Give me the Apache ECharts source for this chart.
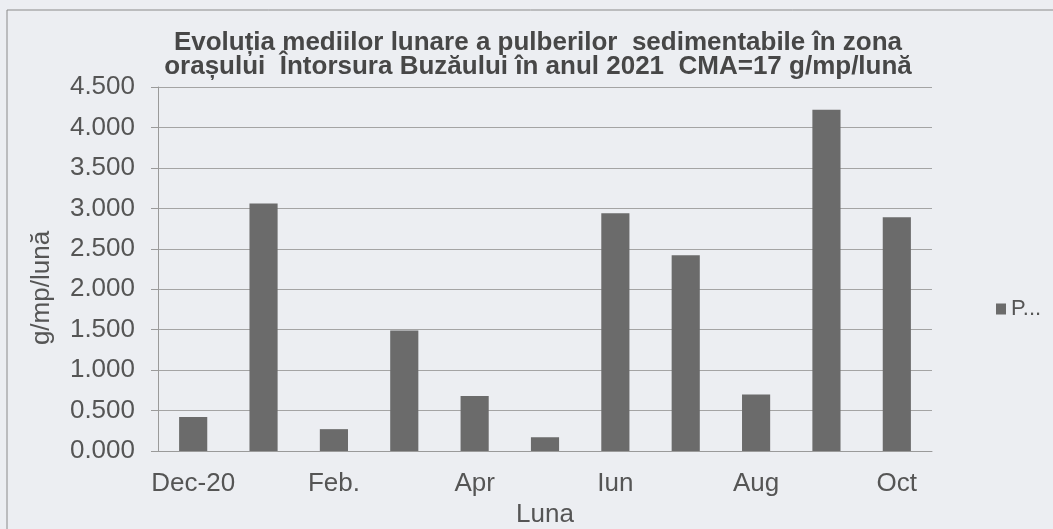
<!DOCTYPE html>
<html>
<head>
<meta charset="utf-8">
<script src="https://cdn.jsdelivr.net/npm/echarts@6/dist/echarts.min.js"></script>
<style>
html,body{margin:0;padding:0;background:#eceef2;}
#c{width:1053px;height:529px;}
</style>
</head>
<body>
<div id="c"></div>
<script>
const titleText = 'Evoluția mediilor lunare a pulberilor  sedimentabile în zona\norașului  Întorsura Buzăului în anul 2021  CMA=17 g/mp/lună';
const categories = ['Dec-20','Ian.','Feb.','Mar.','Apr','Mai','Iun','Iul','Aug','Sep','Oct'];
const values = [0.42, 3.06, 0.27, 1.49, 0.68, 0.17, 2.94, 2.42, 0.70, 4.22, 2.89];
const seriesName = 'P...';
const yAxisName = 'g/mp/lună';
const xAxisName = 'Luna';

const chart = echarts.init(document.getElementById('c'));
const font = 'Liberation Sans, Arial, sans-serif';
chart.setOption({
  backgroundColor: '#eceef2',
  animation: false,
  textStyle: {fontFamily: font},
  graphic: [{
    type: 'rect', shape: {x: 7, y: 10, width: 1060, height: 540},
    style: {fill: 'none', stroke: '#8a8a8a', lineWidth: 1}, silent: true
  }],
  title: {
    text: titleText,
    left: 533, top: 26, textAlign: 'center',
    textStyle: {fontFamily: font, fontSize: 26, fontWeight: 'bold', color: '#474747', lineHeight: 24}
  },
  legend: {
    data: [seriesName],
    orient: 'vertical', left: 991, top: 293,
    itemWidth: 10, itemHeight: 11, itemGap: 4, icon: 'rect',
    textStyle: {fontFamily: font, fontSize: 22, color: '#555'}
  },
  grid: {left: 158, right: 121, top: 87, bottom: 78, containLabel: false, outerBoundsMode: 'none'},
  xAxis: {
    type: 'category', data: categories,
    name: xAxisName, nameLocation: 'middle', nameGap: 49,
    nameTextStyle: {fontFamily: font, fontSize: 26, color: '#555'},
    axisLine: {lineStyle: {color: '#9a9a9a'}},
    axisTick: {show: false},
    axisLabel: {interval: 1, fontFamily: font, fontSize: 26, color: '#555', margin: 20}
  },
  yAxis: {
    type: 'value', min: 0, max: 4.5, interval: 0.5,
    name: yAxisName, nameLocation: 'middle', nameGap: 103, nameRotate: 90,
    nameTextStyle: {fontFamily: font, fontSize: 26, color: '#555', padding: [0, 38, 0, 0]},
    axisLine: {show: true, lineStyle: {color: '#9a9a9a'}},
    axisTick: {show: true, length: 7, lineStyle: {color: '#9a9a9a'}},
    splitLine: {lineStyle: {color: '#a4a4a4', width: 1}},
    axisLabel: {fontFamily: font, fontSize: 26, color: '#555', margin: 23,
      formatter: v => v.toFixed(3)}
  },
  series: [{
    name: seriesName, type: 'bar', data: values,
    barWidth: '40%',
    itemStyle: {color: '#6b6b6b'}
  }]
});
</script>
</body>
</html>
